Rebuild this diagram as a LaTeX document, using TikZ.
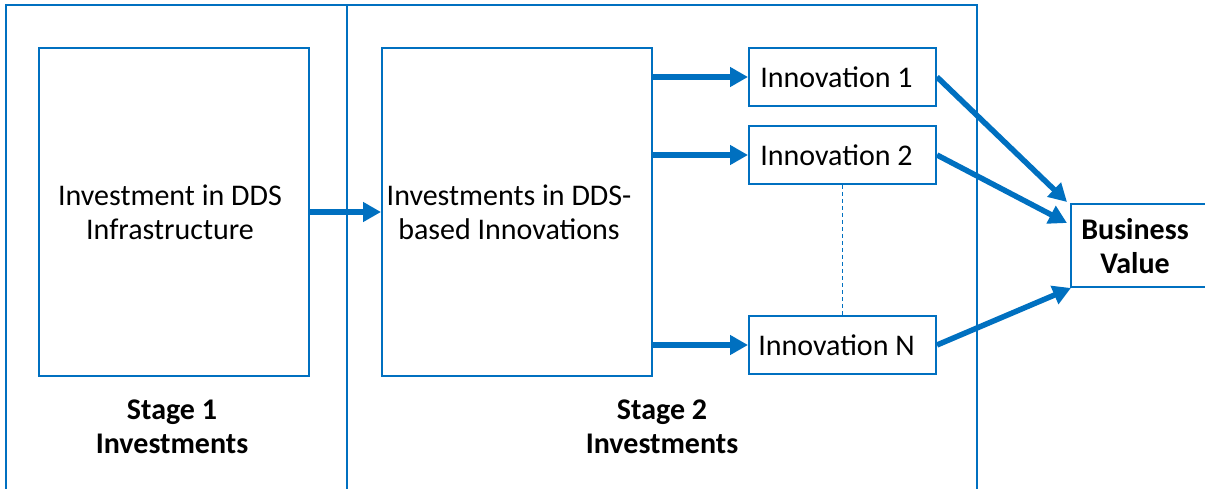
\documentclass[tikz,border=0pt]{standalone}
\usepackage{fontspec}
\setmainfont{Carlito}
\usetikzlibrary{arrows.meta,calc}
\definecolor{ppblue}{RGB}{0,112,192}
\begin{document}
\begin{tikzpicture}[x=1pt,y=-1pt,
  box/.style={draw=ppblue,line width=2pt,inner sep=0pt,fill=white},
  frame/.style={draw=ppblue,line width=2pt},
  flow/.style={draw=ppblue,line width=5.5pt,-{Triangle[length=18pt,width=19pt]}},
  lbl/.style={font=\fontsize{30}{34}\selectfont,align=center,inner sep=0pt},
  blbl/.style={lbl,font=\fontsize{30}{34}\selectfont\bfseries},
  dots/.style={draw=ppblue,line width=1.5pt,dash pattern=on 4pt off 3pt}]
\useasboundingbox (0,0) rectangle (1205,489);
% stage frames
\draw[frame] (6,500) -- (6,5) -- (977,5) -- (977,500);
\draw[frame] (347,5) -- (347,500);
% stage 1
\node[box,minimum width=270,minimum height=328] (s1) at (174,212) {};
\node[lbl] (s1t) at (170,212) {Investment in DDS\\Infrastructure};
\node[blbl] (st1) at (172,427) {Stage 1\\Investments};
% stage 2
\node[box,minimum width=270,minimum height=328] (s2) at (517,212) {};
\node[lbl] (s2t) at (509,212) {Investments in DDS-\\based Innovations};
\node[blbl] (st2) at (662,427) {Stage 2\\Investments};
% innovations
\node[box,lbl,minimum width=187,minimum height=58] (i1) at (842.5,77) {\hspace*{-12pt}Innovation 1};
\node[box,lbl,minimum width=187,minimum height=58] (i2) at (842.5,155) {\hspace*{-12pt}Innovation 2};
\node[box,lbl,minimum width=187,minimum height=58] (iN) at (842.5,345) {\hspace*{-12pt}Innovation N};
% business value
\node[box,minimum width=150,minimum height=83,anchor=west] (bv) at (1070,245.5) {};
\node[blbl] (bvt) at (1135,246) {Business\\Value};
% connectors
\draw[flow] (s1.east) -- (s2.west);
\draw[flow] (s2.east |- i1.west) -- (i1.west);
\draw[flow] (s2.east |- i2.west) -- (i2.west);
\draw[flow] (s2.east |- iN.west) -- (iN.west);
\draw[dots] (i2.south) -- (iN.north);
\coordinate (bv1) at ($(bv.north west)+(-3,-1)$);
\coordinate (bv2) at ($(bv.north west)+(-3,20)$);
\coordinate (bvN) at ($(bv.south west)+(1,0)$);
\draw[flow] (i1.east) -- (bv1);
\draw[flow] (i2.east) -- (bv2);
\draw[flow] (iN.east) -- (bvN);
\end{tikzpicture}
\end{document}
